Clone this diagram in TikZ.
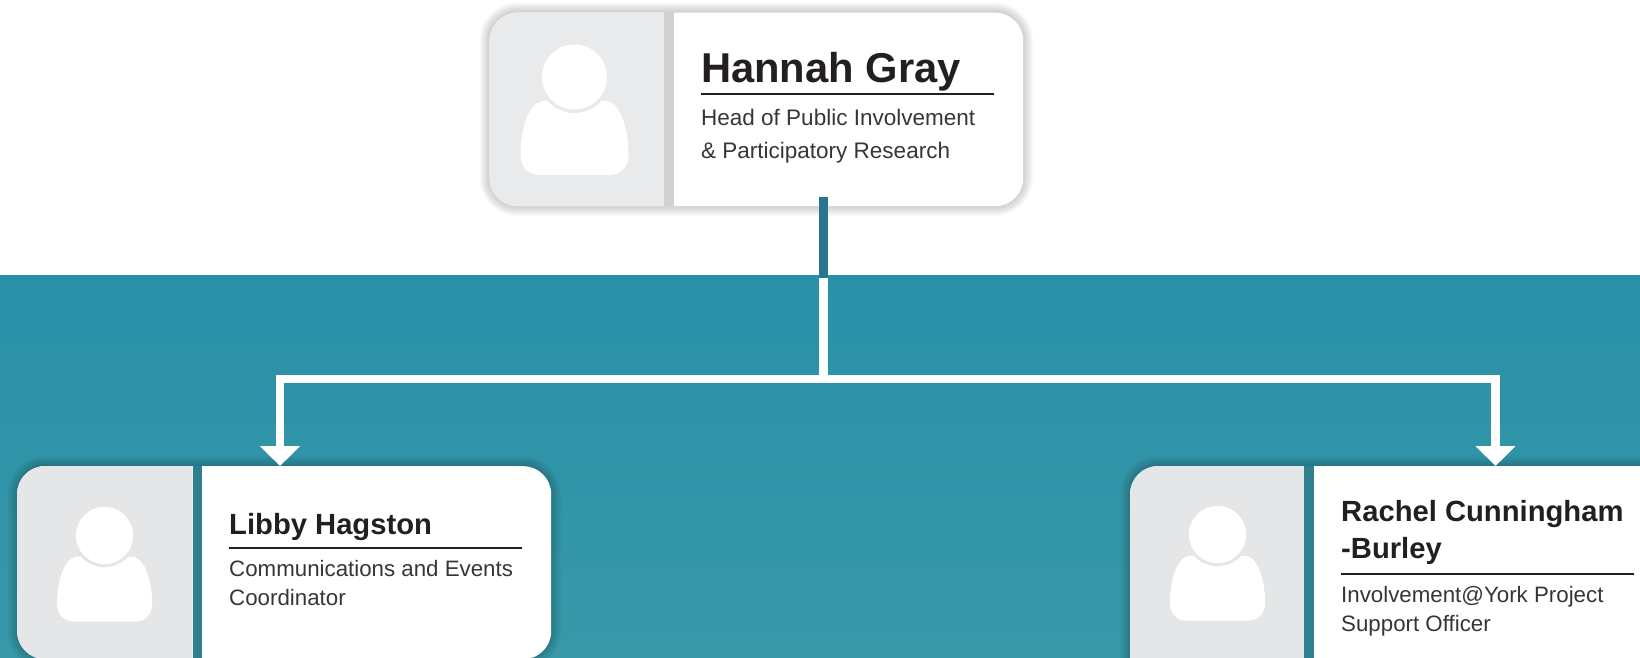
\documentclass[tikz,border=0pt]{standalone}
\usepackage{fontspec}
\setmainfont{Liberation Sans}
\usetikzlibrary{arrows.meta}
\definecolor{tealtop}{HTML}{2990A8}
\definecolor{tealbot}{HTML}{3899A9}
\definecolor{trunkblue}{HTML}{2B7490}
\definecolor{inkdark}{HTML}{231F20}
\definecolor{panellight}{HTML}{E9EAEC}
\definecolor{panelgrey}{HTML}{E4E6E8}
\definecolor{gapteal}{HTML}{2F7F8E}
\tikzset{
  avatarring/.style={fill=panelgrey},
  avatar/.pic={
    \fill [white] (-28,24) .. controls (-46,22) and (-54,52) .. (-54,78)
      .. controls (-54,90) and (-46,98) .. (-34,98) -- (34,98)
      .. controls (46,98) and (54,90) .. (54,78)
      .. controls (54,52) and (46,22) .. (28,24) -- cycle;
    \path [avatarring] (0,0) circle (36);
    \fill [white] (0,0) circle (32.5);
  },
  cardbox/.style={draw=none,fill=white,rounded corners=28pt,inner sep=0pt,anchor=north west},
  namebig/.style={anchor=base west,inner sep=0pt,text=inkdark,align=left,font=\fontsize{41.7}{42}\selectfont\bfseries},
  namesmall/.style={anchor=base west,inner sep=0pt,text=inkdark,align=left,font=\fontsize{29.2}{37}\selectfont\bfseries},
  rolebig/.style={anchor=base west,inner sep=0pt,text=inkdark!90,align=left,font=\fontsize{22.5}{32.5}\selectfont},
  rolesmall/.style={anchor=base west,inner sep=0pt,text=inkdark!90,align=left,font=\fontsize{22.3}{29}\selectfont},
  namerule/.style={draw=inkdark,line width=2pt},
  linkwhite/.style={draw=white,line width=8.5pt},
  arrowwhite/.style={linkwhite,-{Triangle[width=39pt,length=20pt]}},
}
% card: name, left, top, width, height, panel width, gap colour, panel colour
\newcommand{\orgcard}[8]{
  \foreach \s in {1,...,10}
    \fill [black,opacity=0.02,rounded corners={(28+\s)*1pt}]
      (#2-\s,#3-\s) rectangle ++(#4+2*\s,#5+2*\s);
  \node (#1) [cardbox,minimum width=#4pt,minimum height=#5pt] at (#2,#3) {};
  \fill [#8] (#2+#6,#3) -- (#2+#6,#3+#5) [rounded corners=28pt] -- (#2,#3+#5) -- (#2,#3) [sharp corners] -- cycle;
  \fill [#7] (#2+#6,#3) rectangle ++(9.5,#5);
}
\begin{document}
\begin{tikzpicture}[x=1pt,y=-1pt]
\useasboundingbox (0,0) rectangle (1640,658);
\clip (0,0) rectangle (1640,658);
\shade [top color=tealtop,bottom color=tealbot] (0,275) rectangle (1640,658);

\orgcard{hannah}{489.5}{12.5}{533.5}{193.5}{174.5}{black!18}{panellight}
\orgcard{libby}{17}{466}{534}{193}{175.5}{gapteal}{panelgrey}
\orgcard{rachel}{1130}{466}{600}{220}{174}{gapteal}{panelgrey}

\pic [avatarring/.style={fill=panellight}] at (574.5,77) {avatar};
\pic [scale=0.88] at (104.6,535.5) {avatar};
\pic [scale=0.88] at (1217.5,534.5) {avatar};

\node (hannahname) [namebig] at (701,82.5) {Hannah Gray};
\node (hannahrole) [rolebig] at (701,158) {Head of Public Involvement\\\& Participatory Research};
\draw [namerule] (701,94) -- (994,94);

\node (libbyname) [namesmall] at (229,534) {Libby Hagston};
\node (libbyrole) [rolesmall] at (229,605.5) {Communications and Events\\Coordinator};
\draw [namerule] (229,547.5) -- (522,547.5);

\node (rachelname) [namesmall] at (1341,558.5) {Rachel Cunningham\\-Burley};
\node (rachelrole) [rolesmall] at (1341,631.5) {Involvement@York Project\\Support Officer};
\draw [namerule] (1341,573.5) -- (1634,573.5);

% connectors
\coordinate (trunktop) at (823.5,197);
\coordinate (trunkmid) at (823.5,278);
\coordinate (split) at (823.5,379);
\coordinate (libbytop) at (280,466);
\coordinate (racheltop) at (1495.5,466);
\draw [draw=trunkblue,line width=8.5pt] (trunktop) -- (trunkmid);
\draw [linkwhite] (trunkmid) -- (split);
\draw [arrowwhite] (split) -| (libbytop);
\draw [arrowwhite] (split) -| (racheltop);
\end{tikzpicture}
\end{document}
